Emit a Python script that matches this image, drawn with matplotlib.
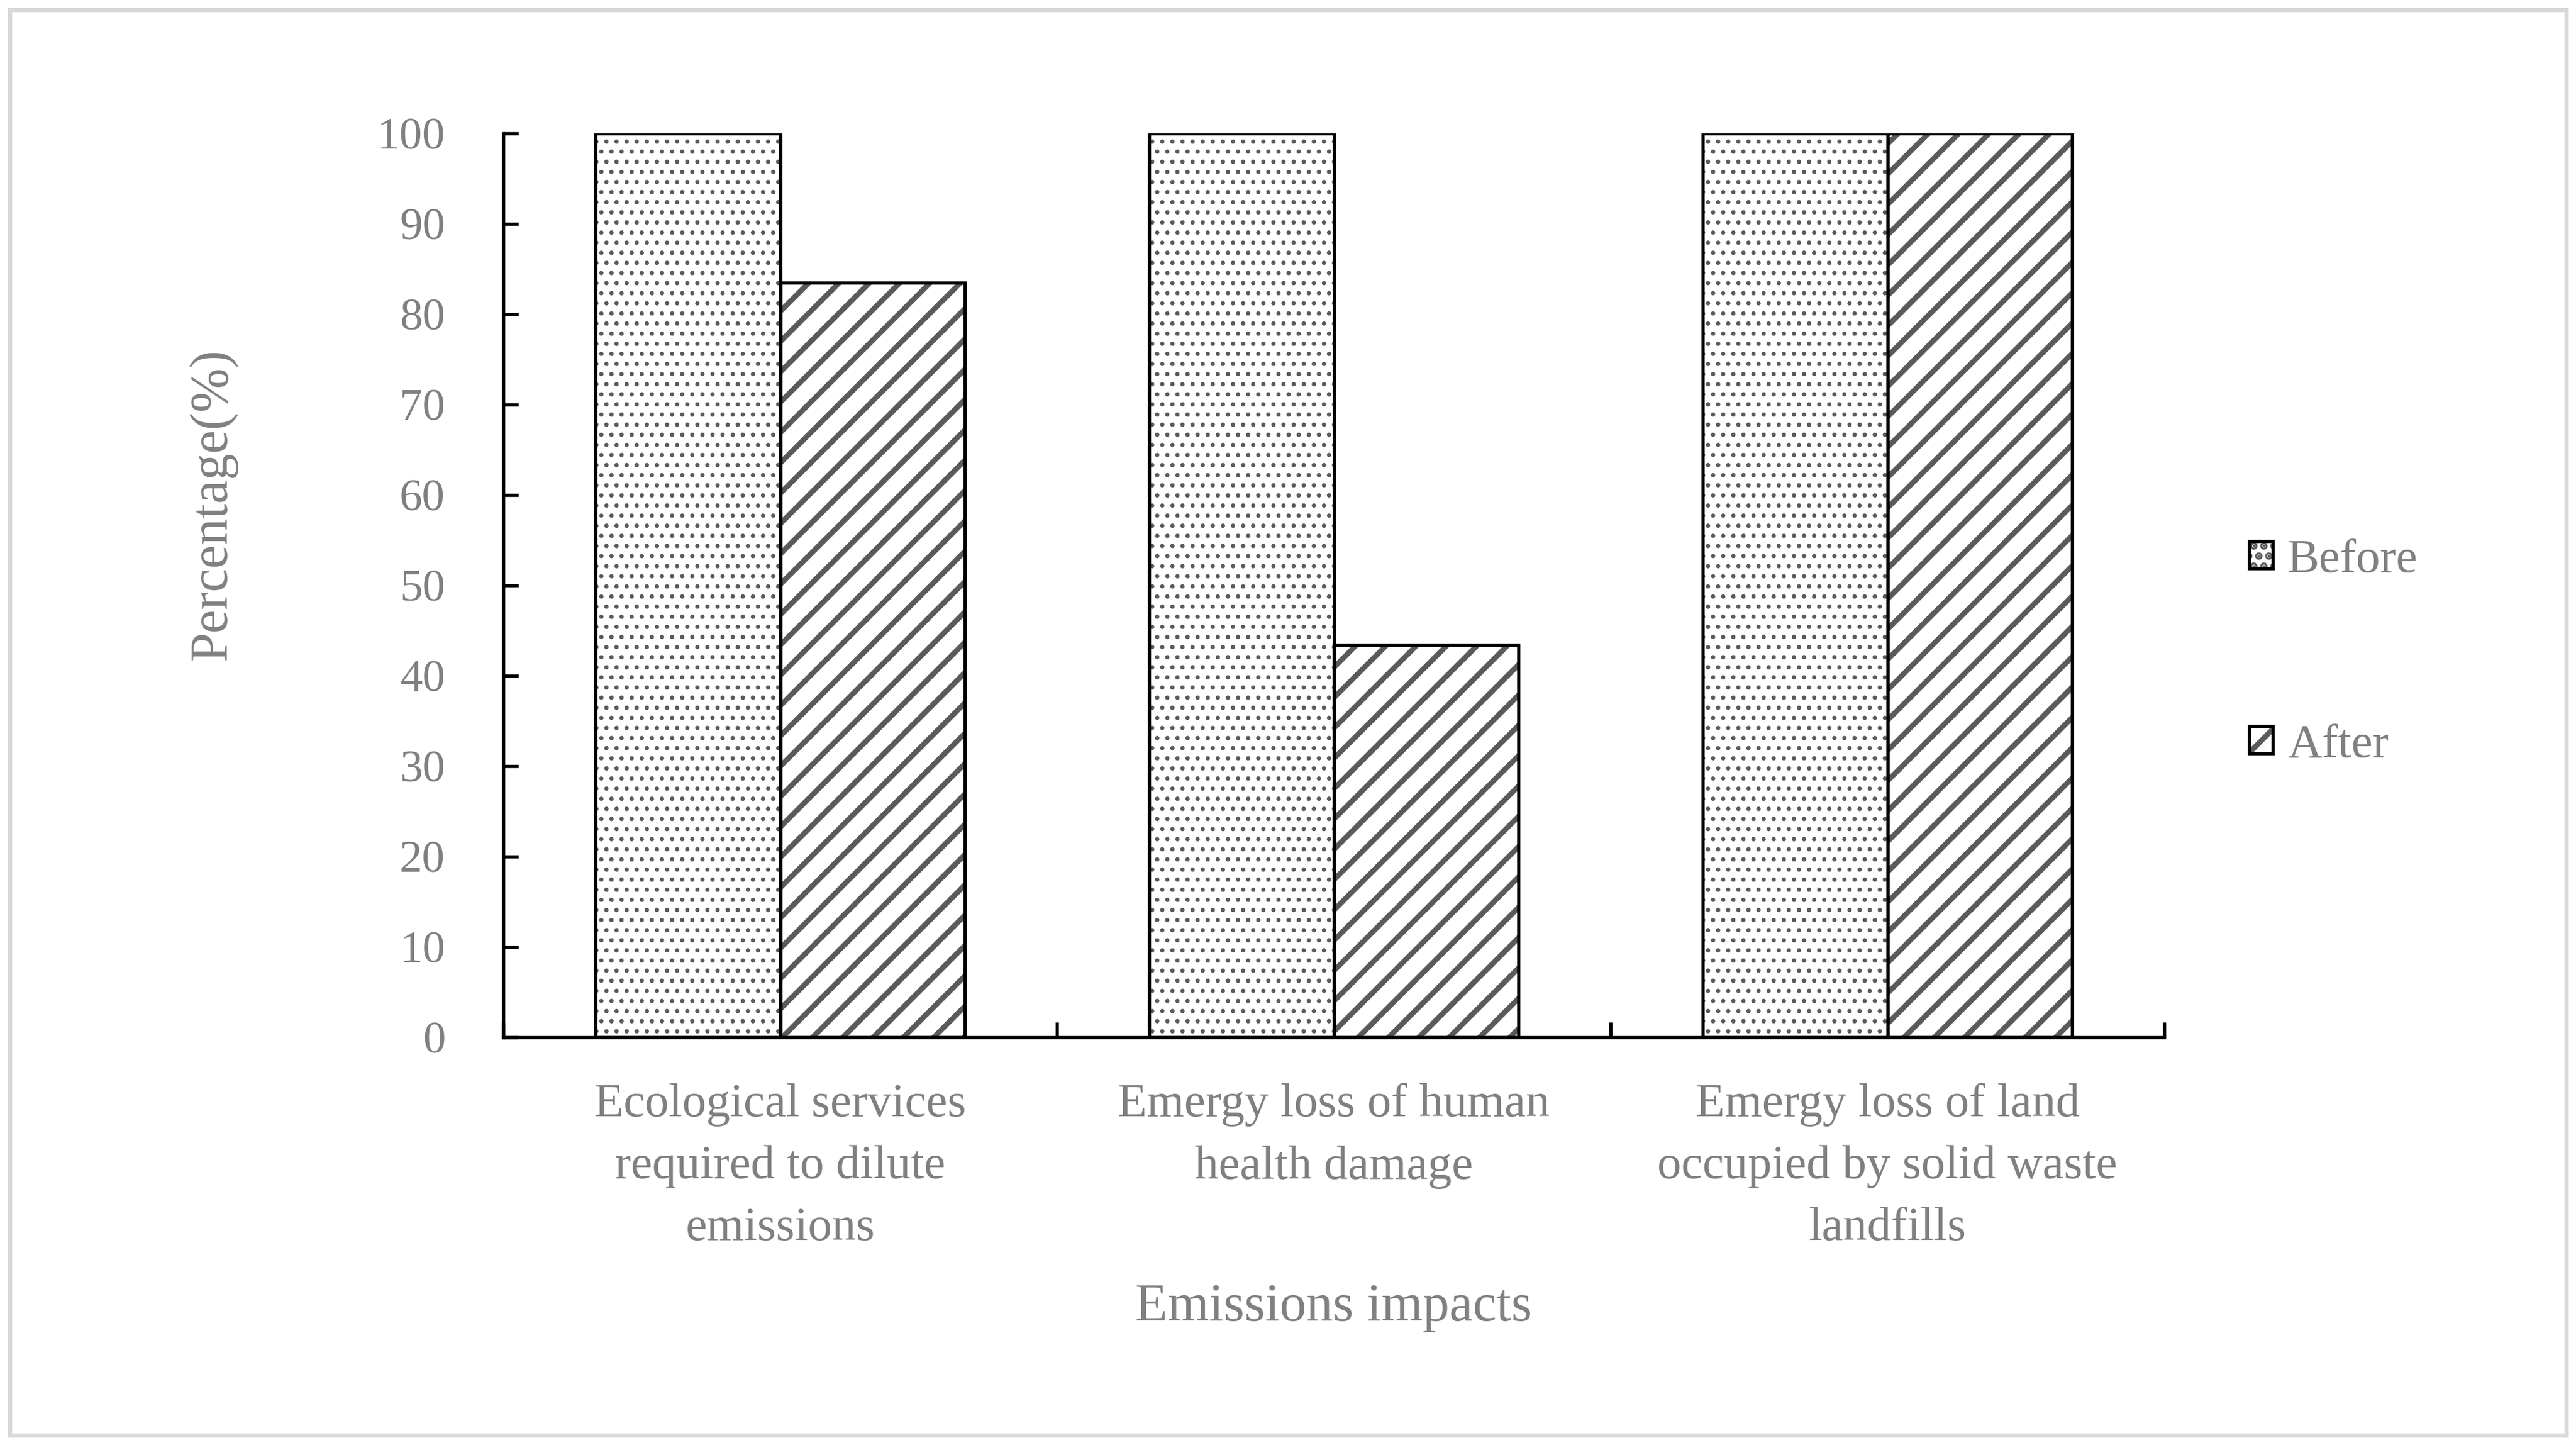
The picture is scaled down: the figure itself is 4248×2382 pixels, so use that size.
import matplotlib as mpl
import matplotlib.pyplot as plt
import numpy as np
from matplotlib.patches import Rectangle

# --- style ---
mpl.rcParams.update({
    "font.family": ["Liberation Serif", "DejaVu Serif"],
    "hatch.color": "#5a5a5a",
    "hatch.linewidth": 2.1,
    "axes.linewidth": 1.3,
})

TEXT_GRAY = "#808080"

# --- data ---
categories = [
    "Ecological services\nrequired to dilute\nemissions",
    "Emergy loss of human\nhealth damage",
    "Emergy loss of land\noccupied by solid waste\nlandfills",
]
before_vals = [100, 100, 100]
after_vals = [83.5, 43.4, 100]
series_labels = ["Before", "After"]
y_ticks = list(range(0, 101, 10))


def set_hatch_lw(patches, lw):
    for p in patches:
        if hasattr(p, "set_hatch_linewidth"):
            p.set_hatch_linewidth(lw)


fig = plt.figure(figsize=(14.16, 7.94), dpi=300)
ax = fig.add_axes([0.1954, 0.2821, 0.6448, 0.6255])

x = np.arange(len(categories))
w = 1 / 3

# hatch fill first (no edge, so the hatch keeps its gray colour),
# black outline drawn on top as a second, unfilled bar
with mpl.rc_context({"hatch.linewidth": 0.9}):
    h1 = ax.bar(x - w / 2, before_vals, w, color="white", linewidth=0, hatch="...")
with mpl.rc_context({"hatch.linewidth": 2.1}):
    h2 = ax.bar(x + w / 2, after_vals, w, color="white", linewidth=0, hatch="//")
set_hatch_lw(h1, 0.9)
set_hatch_lw(h2, 2.1)
o1 = ax.bar(x - w / 2, before_vals, w, fill=False, edgecolor="black", linewidth=1.3)
o2 = ax.bar(x + w / 2, after_vals, w, fill=False, edgecolor="black", linewidth=1.3)

ax.set_xlim(-0.5, len(categories) - 0.5)
ax.set_ylim(0, 100)

for s in ["top", "right"]:
    ax.spines[s].set_visible(False)

ax.set_yticks(y_ticks)
ax.tick_params(axis="y", direction="in", length=6, width=1.3,
               pad=23, labelsize=18, labelcolor=TEXT_GRAY)

ax.set_xticks(x)
ax.set_xticklabels(categories, linespacing=1.56)
ax.set_xticks(np.arange(-0.5, len(categories)), minor=True)
ax.tick_params(axis="x", which="major", length=0, pad=18,
               labelsize=19, labelcolor=TEXT_GRAY)
ax.tick_params(axis="x", which="minor", direction="in", length=6, width=1.3)

ax.set_ylabel("Percentage(%)", fontsize=21, color=TEXT_GRAY)
ax.yaxis.label.set_va("center")
ax.yaxis.set_label_coords(-0.1748, 0.5896)

ax.set_xlabel("Emissions impacts", fontsize=21, color=TEXT_GRAY)
ax.xaxis.label.set_va("center")
ax.xaxis.set_label_coords(0.5, -0.299)

leg = fig.legend([(h1, o1), (h2, o2)], series_labels,
                 loc="center left", bbox_to_anchor=(0.873, 0.548),
                 frameon=False, borderpad=0, borderaxespad=0,
                 handlelength=0.5, handleheight=0.5, handletextpad=0.3,
                 labelspacing=2.95, fontsize=19)
for t in leg.get_texts():
    t.set_color(TEXT_GRAY)

# light gray frame around the chart
fig.patches.append(Rectangle((0.0038, 0.0068), 0.9924, 0.9864,
                             transform=fig.transFigure, fill=False,
                             edgecolor="#d9d9d9", linewidth=1.7))

fig.savefig("out.png", dpi=300, facecolor="white")
